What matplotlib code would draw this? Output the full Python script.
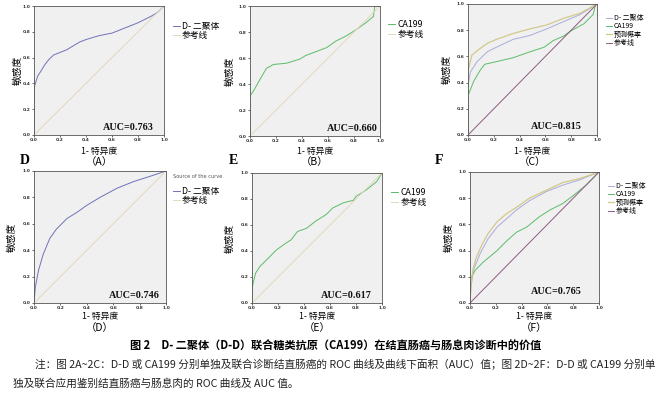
import matplotlib
matplotlib.use("Agg")
import matplotlib.pyplot as plt
from matplotlib.ticker import FormatStrFormatter, MultipleLocator

plt.rcParams['font.family'] = ['Noto Sans CJK SC', 'DejaVu Sans']

W, H = 667, 396

# ---------------- data ----------------
ref_x = [0.0, 1.0]
ref_y = [0.0, 1.0]

# (A) D-D, colorectal cancer diagnosis
a_dd_x = [0.0, 0.0, 0.01, 0.02, 0.03, 0.05, 0.08, 0.11, 0.15, 0.20, 0.25, 0.30, 0.35, 0.40, 0.50, 0.60, 0.70, 0.80, 0.90, 0.95, 1.0]
a_dd_y = [0.0, 0.36, 0.40, 0.43, 0.46, 0.49, 0.54, 0.58, 0.62, 0.64, 0.66, 0.69, 0.72, 0.74, 0.77, 0.79, 0.83, 0.87, 0.92, 0.95, 1.0]

# (B) CA199
b_ca_x = [0.0, 0.0, 0.023, 0.074, 0.126, 0.18, 0.28, 0.38, 0.43, 0.51, 0.59, 0.66, 0.74, 0.82, 0.89, 0.95, 0.96, 1.0]
b_ca_y = [0.0, 0.31, 0.34, 0.43, 0.52, 0.55, 0.56, 0.59, 0.62, 0.65, 0.68, 0.73, 0.77, 0.82, 0.87, 0.92, 1.0, 1.0]

# (C) combined
c_dd_x = [0.0, 0.0, 0.018, 0.07, 0.15, 0.22, 0.35, 0.48, 0.61, 0.74, 0.87, 1.0]
c_dd_y = [0.0, 0.38, 0.48, 0.56, 0.635, 0.67, 0.73, 0.76, 0.81, 0.865, 0.92, 1.0]
c_ca_x = [0.0, 0.0, 0.044, 0.095, 0.13, 0.22, 0.35, 0.48, 0.59, 0.66, 0.74, 0.79, 0.90, 0.97, 0.99, 1.0]
c_ca_y = [0.0, 0.30, 0.41, 0.495, 0.54, 0.56, 0.59, 0.635, 0.67, 0.72, 0.755, 0.79, 0.85, 0.92, 1.0, 1.0]
c_pp_x = [0.0, 0.0, 0.03, 0.08, 0.15, 0.22, 0.35, 0.48, 0.61, 0.74, 0.87, 1.0]
c_pp_y = [0.0, 0.49, 0.61, 0.65, 0.70, 0.73, 0.775, 0.81, 0.84, 0.89, 0.93, 1.0]

# (D) D-D, cancer vs polyp
d_dd_x = [0.0, 0.01, 0.035, 0.07, 0.12, 0.17, 0.25, 0.33, 0.40, 0.50, 0.63, 0.755, 0.88, 1.0]
d_dd_y = [0.0, 0.12, 0.25, 0.37, 0.49, 0.56, 0.64, 0.69, 0.74, 0.80, 0.87, 0.92, 0.96, 1.0]

# (E) CA199
e_ca_x = [0.0, 0.0, 0.008, 0.028, 0.06, 0.11, 0.19, 0.26, 0.30, 0.35, 0.42, 0.49, 0.57, 0.62, 0.70, 0.78, 0.80, 0.88, 0.96, 1.0]
e_ca_y = [0.0, 0.10, 0.15, 0.23, 0.28, 0.33, 0.41, 0.46, 0.485, 0.55, 0.575, 0.63, 0.68, 0.73, 0.77, 0.79, 0.82, 0.87, 0.935, 1.0]

# (F) combined
f_pp_x = [0.0, 0.008, 0.026, 0.05, 0.09, 0.14, 0.21, 0.28, 0.36, 0.46, 0.59, 0.72, 0.85, 1.0]
f_pp_y = [0.0, 0.15, 0.27, 0.35, 0.44, 0.53, 0.62, 0.68, 0.73, 0.80, 0.86, 0.92, 0.95, 1.0]
f_dd_x = [0.0, 0.008, 0.026, 0.08, 0.14, 0.21, 0.28, 0.36, 0.46, 0.59, 0.72, 0.85, 1.0]
f_dd_y = [0.0, 0.12, 0.25, 0.38, 0.49, 0.58, 0.64, 0.71, 0.78, 0.85, 0.90, 0.94, 1.0]
f_ca_x = [0.0, 0.0, 0.013, 0.04, 0.10, 0.21, 0.28, 0.36, 0.44, 0.54, 0.62, 0.72, 0.80, 0.90, 1.0]
f_ca_y = [0.0, 0.10, 0.20, 0.25, 0.31, 0.40, 0.47, 0.54, 0.58, 0.66, 0.71, 0.76, 0.82, 0.90, 1.0]

auc_values = ["0.763", "0.660", "0.815", "0.746", "0.617", "0.765"]
panel_tags = ["（A）", "（B）", "（C）", "（D）", "（E）", "（F）"]
row_letters = ["D", "E", "F"]
xlabel_text = "1- 特异度"
ylabel_text = "敏感度"
lab_dd = "D- 二聚体"
lab_ca = "CA199"
lab_pp = "预测概率"
lab_ref = "参考线"
caption = "图 2　D- 二聚体（D-D）联合糖类抗原（CA199）在结直肠癌与肠息肉诊断中的价值"
note1 = "注：图 2A~2C：D-D 或 CA199 分别单独及联合诊断结直肠癌的 ROC 曲线及曲线下面积（AUC）值；图 2D~2F：D-D 或 CA199 分别单"
note2 = "独及联合应用鉴别结直肠癌与肠息肉的 ROC 曲线及 AUC 值。"

# ---------------- style ----------------
C_DD_DARK = "#6f72b8"
C_DD_LIGHT = "#a9acd9"
C_CA = "#5cbd68"
C_PP = "#d2c98a"
C_REF_LIGHT = "#e3d8bd"
C_REF_PURPLE = "#8e5c84"
FACE = "#f0f0f0"

fig = plt.figure(figsize=(W / 100, H / 100), dpi=100)
fig.patch.set_facecolor("white")


def fx(px):
    return px / W


def fy(py):
    return 1 - py / H


def make_ax(l, t, r, b, ylab_x):
    ax = fig.add_axes([fx(l), fy(b), (r - l) / W, (b - t) / H])
    ax.set_facecolor(FACE)
    ax.set_xlim(0, 1)
    ax.set_ylim(0, 1)
    ax.xaxis.set_major_locator(MultipleLocator(0.2))
    ax.yaxis.set_major_locator(MultipleLocator(0.2))
    ax.xaxis.set_major_formatter(FormatStrFormatter('%.1f'))
    ax.yaxis.set_major_formatter(FormatStrFormatter('%.1f'))
    ax.tick_params(labelsize=3.2, length=1.5, width=0.5, pad=1, colors="#333333")
    for lab in ax.get_xticklabels() + ax.get_yticklabels():
        lab.set_fontweight("bold")
        lab.set_family("DejaVu Sans")
    for s in ax.spines.values():
        s.set_linewidth(0.6)
        s.set_color("#555555")
    ax.set_ylabel(ylabel_text, fontsize=7)
    ax.yaxis.set_label_coords(ylab_x, 0.5)
    return ax


def add_legend(ax, handles, labels, x, ytop, fs, spacing, hl):
    leg = ax.legend(handles, labels, loc="upper left",
                    bbox_to_anchor=(fx(x), fy(ytop)), bbox_transform=fig.transFigure,
                    frameon=False, fontsize=fs, handlelength=hl, handletextpad=0.25,
                    labelspacing=spacing, borderpad=0, borderaxespad=0)
    return leg


def auc_text(ax, val, xr, yb):
    ax.text(xr, yb, "AUC=" + val, transform=ax.transAxes, ha="right", va="bottom",
            fontsize=7.3, fontweight="bold", family="Liberation Serif", color="#111111")


# Panel geometry (pixels): left, top, right, bottom
geo = [(34, 6, 164, 135), (250, 6, 380, 136), (468, 4, 597, 135),
       (34, 171, 166, 303), (252, 173, 382, 303), (470, 172, 599, 303)]
ylab_pos = [-0.09, -0.12, -0.13, -0.13, -0.13, -0.13]
axes = [make_ax(*g, yl) for g, yl in zip(geo, ylab_pos)]

# (A)
ax = axes[0]
l1, = ax.plot(a_dd_x, a_dd_y, color=C_DD_DARK, lw=0.7)
l2, = ax.plot(ref_x, ref_y, color=C_REF_LIGHT, lw=0.7)
add_legend(ax, [l1, l2], [lab_dd, lab_ref], 173, 22, 6.3, 0.05, 0.75)
auc_text(ax, auc_values[0], 0.925, 0.025)

# (B)
ax = axes[1]
l1, = ax.plot(b_ca_x, b_ca_y, color=C_CA, lw=0.7)
l2, = ax.plot(ref_x, ref_y, color=C_REF_LIGHT, lw=0.7)
add_legend(ax, [l1, l2], [lab_ca, lab_ref], 388, 20, 6.3, 0.15, 0.8)
auc_text(ax, auc_values[1], 0.98, 0.025)

# (C)
ax = axes[2]
l1, = ax.plot(c_dd_x, c_dd_y, color=C_DD_LIGHT, lw=0.7)
l2, = ax.plot(c_ca_x, c_ca_y, color=C_CA, lw=0.7)
l3, = ax.plot(c_pp_x, c_pp_y, color=C_PP, lw=0.9)
l4, = ax.plot(ref_x, ref_y, color=C_REF_PURPLE, lw=0.7)
add_legend(ax, [l1, l2, l3, l4], [lab_dd, lab_ca, lab_pp, lab_ref], 606, 14, 5.0, 0.05, 0.85)
auc_text(ax, auc_values[2], 0.88, 0.03)

# (D)
ax = axes[3]
l1, = ax.plot(d_dd_x, d_dd_y, color=C_DD_DARK, lw=0.7)
l2, = ax.plot(ref_x, ref_y, color=C_REF_LIGHT, lw=0.7)
add_legend(ax, [l1, l2], [lab_dd, lab_ref], 173, 187, 6.3, 0.05, 0.75)
fig.text(fx(173), fy(176), "Source of the curve", fontsize=3.6, color="#555555",
         family="DejaVu Sans", ha="left", va="center")
auc_text(ax, auc_values[3], 0.95, 0.025)

# (E)
ax = axes[4]
l1, = ax.plot(e_ca_x, e_ca_y, color=C_CA, lw=0.7)
l2, = ax.plot(ref_x, ref_y, color=C_REF_LIGHT, lw=0.7)
add_legend(ax, [l1, l2], [lab_ca, lab_ref], 391, 188, 6.3, 0.1, 0.8)
auc_text(ax, auc_values[4], 0.925, 0.025)

# (F)
ax = axes[5]
l1, = ax.plot(f_dd_x, f_dd_y, color=C_DD_LIGHT, lw=0.7)
l2, = ax.plot(f_ca_x, f_ca_y, color=C_CA, lw=0.7)
l3, = ax.plot(f_pp_x, f_pp_y, color=C_PP, lw=0.9)
l4, = ax.plot(ref_x, ref_y, color=C_REF_PURPLE, lw=0.7)
add_legend(ax, [l1, l2, l3, l4], [lab_dd, lab_ca, lab_pp, lab_ref], 608, 182, 5.0, 0.05, 0.85)
auc_text(ax, auc_values[5], 0.865, 0.05)

# x labels and panel tags
for i, (g, tag) in enumerate(zip(geo, panel_tags)):
    cx = (g[0] + g[2]) / 2
    ylab = 151 if i < 3 else 316
    ytag = 162 if i < 3 else 328
    fig.text(fx(cx), fy(ylab), xlabel_text, fontsize=6.3, ha="center", va="center")
    fig.text(fx(cx), fy(ytag), tag, fontsize=7.5, ha="center", va="center")

# row letters
for letter, x in zip(row_letters, [25, 233, 439]):
    fig.text(fx(x), fy(161), letter, fontsize=10, fontweight="bold",
             family="Liberation Serif", ha="center", va="center")

# caption and notes
fig.text(fx(336), fy(346), caption, fontsize=8.0, fontweight="bold", ha="center", va="center")
fig.text(fx(35), fy(365), note1, fontsize=7.7, ha="left", va="center", color="#222222")
fig.text(fx(13), fy(384), note2, fontsize=7.7, ha="left", va="center", color="#222222")

fig.savefig("out.png", dpi=100)
